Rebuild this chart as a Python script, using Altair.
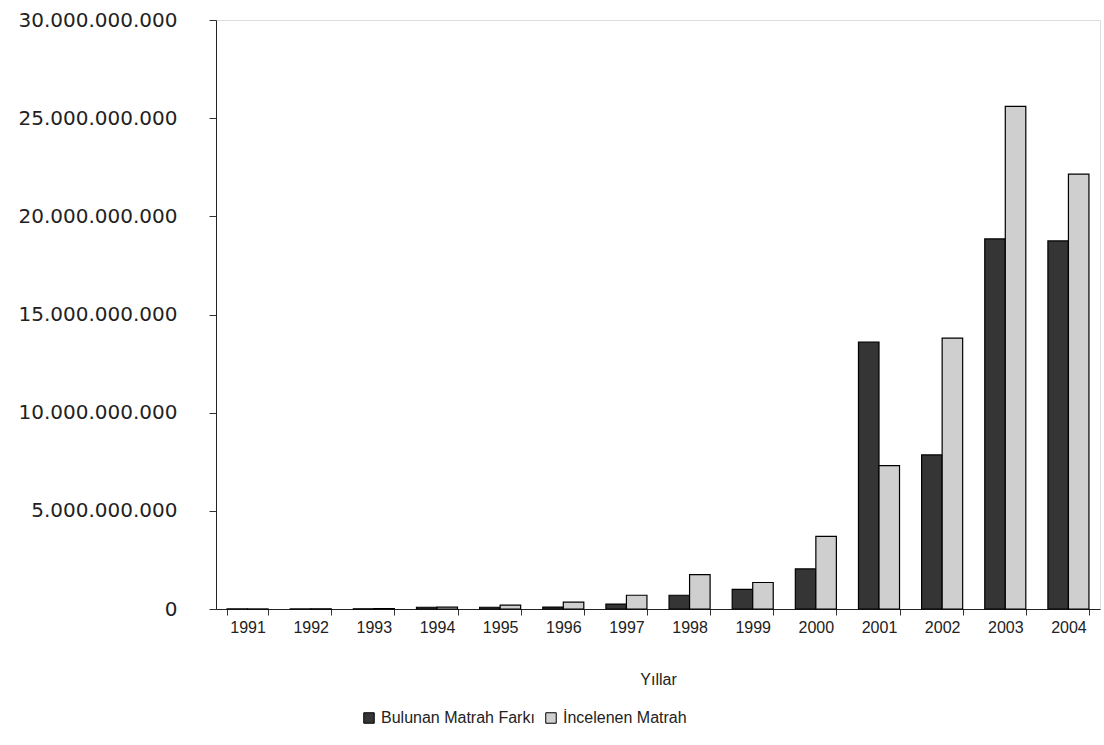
import altair as alt
import pandas as pd

years = [str(y) for y in range(1991, 2005)]
bulunan = [0.002e9, 0.005e9, 0.01e9, 0.09e9, 0.09e9, 0.1e9, 0.25e9, 0.7e9, 1.0e9,
           2.04e9, 13.6e9, 7.85e9, 18.85e9, 18.75e9]
incelenen = [0.004e9, 0.01e9, 0.02e9, 0.1e9, 0.2e9, 0.35e9, 0.7e9, 1.75e9, 1.35e9,
             3.7e9, 7.3e9, 13.8e9, 25.6e9, 22.15e9]
series = ["Bulunan Matrah Farkı", "İncelenen Matrah"]
colors = ["#353535", "#cfcfcf"]

rows = []
for i, y in enumerate(years):
    rows.append({"Yıl": y, "Seri": series[0], "Değer": bulunan[i], "o": 0})
    rows.append({"Yıl": y, "Seri": series[1], "Değer": incelenen[i], "o": 1})
df = pd.DataFrame(rows)

font = "Liberation Sans"

chart = alt.Chart(df).mark_bar(stroke="black", strokeWidth=1.2).encode(
    x=alt.X("Yıl:N", sort=years,
            scale=alt.Scale(paddingInner=0.35, paddingOuter=0.175),
            axis=alt.Axis(title="Yıllar", labelAngle=0, labelFontSize=16,
                          labelFont=font, labelColor="#222", labelPadding=4,
                          tickBand="extent", tickSize=6, tickColor="#333",
                          domainColor="#222", titleFontSize=16, titleFont=font,
                          titleFontWeight="normal", titlePadding=36, titleColor="#222")),
    xOffset=alt.XOffset("o:O"),
    y=alt.Y("Değer:Q", scale=alt.Scale(domain=[0, 30e9], nice=False),
            axis=alt.Axis(title=None, values=[0, 5e9, 10e9, 15e9, 20e9, 25e9, 30e9],
                          format=",d", labelFontSize=20, labelFont="DejaVu Sans",
                          labelColor="#222", labelPadding=32, tickSize=7,
                          tickColor="#333", domainColor="#222", grid=False)),
    color=alt.Color("Seri:N", sort=series,
                    scale=alt.Scale(domain=series, range=colors),
                    legend=alt.Legend(title=None, orient="none", direction="horizontal",
                                      legendX=145, legendY=690,
                                      symbolType="square", symbolSize=110,
                                      symbolStrokeColor="black", symbolStrokeWidth=1,
                                      labelFontSize=16, labelFont=font,
                                      labelColor="#222", columnPadding=8)),
).properties(
    width=884, height=589,
    autosize=alt.AutoSizeParams(type="none"),
    padding={"left": 216, "top": 20, "right": 4, "bottom": 136},
).configure_view(stroke=None).configure(
    locale={"number": {"decimal": ",", "thousands": ".", "grouping": [3],
                       "currency": ["", " TL"]}}
)

chart.save("out.html", embed_options={"renderer": "svg", "actions": False})
